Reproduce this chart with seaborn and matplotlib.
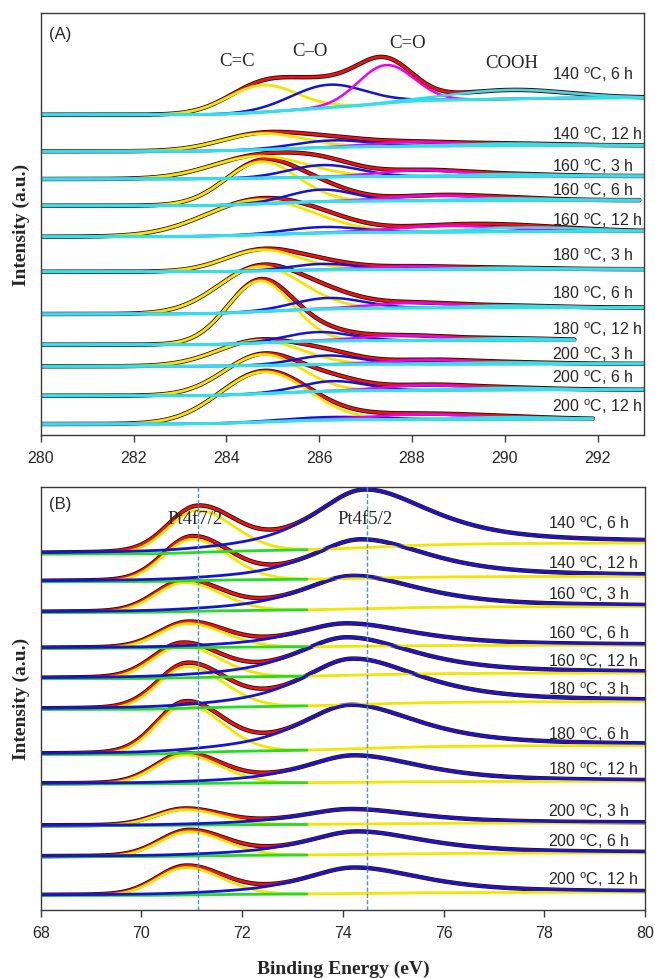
import numpy as np
import pandas as pd
import matplotlib
matplotlib.use("Agg")
import matplotlib.pyplot as plt
import seaborn as sns

# ---------------- data ----------------
conditions = ["140 $^\\mathregular{o}$C, 6 h", "140 $^\\mathregular{o}$C, 12 h",
              "160 $^\\mathregular{o}$C, 3 h", "160 $^\\mathregular{o}$C, 6 h",
              "160 $^\\mathregular{o}$C, 12 h", "180 $^\\mathregular{o}$C, 3 h",
              "180 $^\\mathregular{o}$C, 6 h", "180 $^\\mathregular{o}$C, 12 h",
              "200 $^\\mathregular{o}$C, 3 h", "200 $^\\mathregular{o}$C, 6 h",
              "200 $^\\mathregular{o}$C, 12 h"]

# Panel A: C1s (binding energy, eV)
a_ticks = [280, 282, 284, 286, 288, 290, 292]
a_offset = [320.3, 283.7, 256.0, 229.3, 198.3, 163.3, 121.0, 90.3, 68.7, 39.3, 11.0]
a_rise = [17.0, 6.0, 3.0, 5.5, 5.5, 2.5, 6.5, 4.5, 2.5, 6.0, 5.0]
a_end = [293.0, 293.0, 293.0, 292.9, 293.0, 293.0, 293.0, 291.5, 293.0, 293.0, 291.9]
a_cc_pos = [284.77, 284.75, 284.70, 284.75, 284.70, 284.77, 284.72, 284.72, 284.70, 284.77, 284.80]
a_cc_h = [27, 16, 22, 42, 35, 21, 45, 62, 25, 39, 50]
a_cc_w = [0.75, 0.90, 1.00, 0.78, 1.15, 0.80, 0.90, 0.70, 0.90, 0.83, 0.95]
a_co_pos = [286.2, 286.3, 286.1, 286.05, 286.1, 286.1, 286.2, 286.0, 286.2, 286.3, 286.3]
a_co_h = [23, 7, 12, 12, 6, 6, 11, 9, 9, 10, 3]
a_co_w = [0.80, 0.80, 0.75, 0.70, 0.80, 0.70, 0.75, 0.70, 0.70, 0.70, 1.00]
a_cdo_pos = [287.43, 288.0, 288.2, 288.5, 288.8, 288.0, 288.0, 287.8, 288.3, 288.3, 288.2]
a_cdo_h = [38, 4, 6, 5, 6, 3, 5, 5, 4, 5, 5]
a_cdo_w = [0.60, 0.90, 0.90, 1.00, 1.20, 0.90, 0.90, 0.90, 0.90, 0.90, 1.10]
a_cooh_pos = [290.1, 290.0, 290.0, 290.0, 290.5, 290.0, 290.0, 290.0, 290.0, 290.0, 290.0]
a_cooh_h = [9, 2, 2, 2, 4, 1.5, 2, 2, 1.5, 2, 2]
a_cooh_w = [1.2, 1.0, 1.0, 1.0, 1.2, 1.0, 1.0, 1.0, 1.0, 1.0, 1.0]

# Panel B: Pt4f (binding energy, eV)
b_ticks = [68, 70, 72, 74, 76, 78, 80]
b_offset = [356.0, 328.3, 297.5, 261.8, 231.3, 200.5, 155.5, 126.0, 84.3, 53.3, 14.5]
b_rise = [11.0, 5.4, 6.0, 3.0, 5.7, 8.0, 9.0, 2.7, 2.7, 3.7, 3.2]
b_72_pos = [71.10, 71.00, 70.85, 70.92, 70.80, 70.90, 70.87, 70.85, 70.85, 70.93, 70.88]
b_72_h = [42, 41.5, 29, 24, 32, 41.6, 48, 28.5, 15.5, 24.3, 27.3]
b_52_pos = [74.40, 74.34, 74.17, 74.05, 74.05, 74.17, 74.13, 74.21, 74.13, 74.25, 74.21]
b_52_h = [58, 39, 33, 23, 38, 46, 44, 27, 15, 23, 26]
b_lines = [71.12, 74.47]

# ---------------- style / layout ----------------
W, H = 655, 979
SERIF = "Liberation Serif"
SANS = "Liberation Sans"
C_YEL, C_BLU, C_MAG, C_CYA = "#f2e600", "#1414d2", "#f000f0", "#30e0ec"
C_RED, C_GRN, C_BLK = "#f01010", "#22dd22", "#111111"

sns.set_theme(style="white")
plt.rcParams["font.family"] = [SANS, "DejaVu Sans"]
plt.rcParams["mathtext.fontset"] = "custom"
plt.rcParams["mathtext.rm"] = SANS


def gauss(x, c, h, s):
    return h * np.exp(-(x - c) ** 2 / (2 * s ** 2))


def agauss(x, c, h, sl, sr):
    s = np.where(x < c, sl, sr)
    return h * np.exp(-(x - c) ** 2 / (2 * s ** 2))


def pvoigt(x, c, h, wl, wr, eta):
    w = np.where(x < c, wl, wr)
    u = ((x - c) / w) ** 2
    return h * (eta / (1 + u) + (1 - eta) * np.exp(-np.log(2) * u))


def shirley(base, rise, total):
    cs = np.cumsum(total)
    return base + rise * cs / cs[-1]


# ---------------- build panel A frame ----------------
rows = []
for i in range(len(conditions)):
    x = np.linspace(280.0, a_end[i], 700)
    p1 = gauss(x, a_cc_pos[i], a_cc_h[i], a_cc_w[i])
    p2 = gauss(x, a_co_pos[i], a_co_h[i], a_co_w[i])
    p3 = gauss(x, a_cdo_pos[i], a_cdo_h[i], a_cdo_w[i])
    p4 = gauss(x, a_cooh_pos[i], a_cooh_h[i], a_cooh_w[i])
    bg = shirley(a_offset[i], a_rise[i], p1 + p2 + p3 + p4)
    comps = {"data": bg + p1 + p2 + p3 + p4, "fit": bg + p1 + p2 + p3 + p4,
             "C=C": bg + p1, "C-O": bg + p2, "C=O": bg + p3, "COOH": bg + p4, "bg": bg}
    for k, v in comps.items():
        rows.append(pd.DataFrame({"x": x, "y": v, "trace": i, "comp": k}))
dfA = pd.concat(rows, ignore_index=True)

rows = []
for i in range(len(conditions)):
    x = np.linspace(68.0, 80.0, 700)
    p1 = agauss(x, b_72_pos[i], b_72_h[i], 0.57, 0.72)
    p2 = pvoigt(x, b_52_pos[i], b_52_h[i], 1.2, 1.6, 0.7)
    bg = shirley(b_offset[i], b_rise[i], p1 + p2)
    comps = {"data": bg + p1 + p2, "fit": bg + p1 + p2, "7/2": bg + p1,
             "bg": np.where(x <= 73.3, bg, np.nan), "5/2": bg + p2}
    for k, v in comps.items():
        rows.append(pd.DataFrame({"x": x, "y": v, "trace": i, "comp": k}))
dfB = pd.concat(rows, ignore_index=True)

# ---------------- figure ----------------
fig = plt.figure(figsize=(W / 100, H / 100), dpi=100)
axA = fig.add_axes([40.7 / W, 1 - 436 / H, (644 - 40.7) / W, (436 - 14) / H])
axB = fig.add_axes([40.7 / W, 1 - 911 / H, (645 - 40.7) / W, (911 - 488) / H])

styleA = [("data", C_BLK, 3.2), ("fit", C_RED, 2.0), ("C=C", C_YEL, 2.0), ("C-O", C_BLU, 1.8),
          ("C=O", C_MAG, 1.8), ("COOH", C_CYA, 1.8), ("bg", C_CYA, 2.2)]
styleB = [("data", C_BLK, 3.2), ("fit", C_RED, 2.0), ("7/2", C_YEL, 2.0), ("bg", C_GRN, 2.0),
          ("5/2", C_BLU, 2.0)]

for ax, df, style in [(axA, dfA, styleA), (axB, dfB, styleB)]:
    for comp, col, lw in style:
        sub = df[df["comp"] == comp].dropna()
        sns.lineplot(data=sub, x="x", y="y", units="trace", estimator=None, sort=False,
                     color=col, linewidth=lw, ax=ax, legend=False)

for x0 in b_lines:
    axB.axvline(x0, color="#4a92c8", lw=1.0, ls=(0, (3, 1.5)), zorder=5)

axA.set_xlim(280, 293)
axA.set_ylim(0, 422)
axB.set_xlim(68, 80)
axB.set_ylim(0, 423)
axA.set_xticks(a_ticks)
axB.set_xticks(b_ticks)
for ax in (axA, axB):
    ax.set_yticks([])
    ax.set_xlabel("")
    ax.set_ylabel("")
    for sp in ax.spines.values():
        sp.set_color("#3a3a3a")
        sp.set_linewidth(1.0)
    ax.tick_params(axis="x", direction="out", length=5, width=1, color="#3a3a3a",
                   labelsize=11.5, pad=5.5, bottom=True)
    for t in ax.get_xticklabels():
        t.set_fontfamily(SANS)

# condition labels
for i, lab in enumerate(conditions):
    a_ypx = [75, 135, 166.7, 191, 220.7, 256, 293.3, 330, 355, 377.7, 406.7][i]
    b_ypx = [524, 563.3, 595, 633.3, 661.7, 689.3, 735, 770, 811.7, 841.7, 880][i]
    axA.text(280 + (552 - 40.7) / 46.41, 436 - a_ypx, lab, ha="left", va="center",
             fontsize=11.5, family=SANS)
    axB.text(68 + (548 - 40.7) / 50.36, 911 - b_ypx, lab, ha="left", va="center",
             fontsize=11.5, family=SANS)

def ax_pt(ax, px, py, x0, top, bottom, ppe, x_min):
    return x_min + (px - 40.7) / ppe, bottom - py

# annotations panel A
for txt, px, py in [("C=C", 237, 62), ("C\u2013O", 310, 52), ("C=O", 408, 43), ("COOH", 512, 63)]:
    axA.text(280 + (px - 40.7) / 46.41, 436 - py, txt, ha="center", va="center",
             fontsize=13.5, family=SERIF)
axA.text(280 + (60 - 40.7) / 46.41, 436 - 34, "(A)", ha="center", va="center",
         fontsize=12, family=SANS)
# annotations panel B
for txt, px, py in [("Pt4f7/2", 195, 520), ("Pt4f5/2", 365, 520)]:
    axB.text(68 + (px - 40.7) / 50.36, 911 - py, txt, ha="center", va="center",
             fontsize=13.5, family=SERIF, zorder=6)
axB.text(68 + (60 - 40.7) / 50.36, 911 - 505, "(B)", ha="center", va="center",
         fontsize=12, family=SANS)

# axis titles
fig.text(21 / W, 1 - 225 / H, "Intensity (a.u.)", rotation=90, ha="center", va="center",
         fontsize=14, fontweight="bold", family=SERIF)
fig.text(21 / W, 1 - 699 / H, "Intensity (a.u.)", rotation=90, ha="center", va="center",
         fontsize=14, fontweight="bold", family=SERIF)
fig.text(343 / W, 1 - 969 / H, "Binding Energy (eV)", ha="center", va="center",
         fontsize=14, fontweight="bold", family=SERIF)

fig.savefig("out.png", dpi=100)
